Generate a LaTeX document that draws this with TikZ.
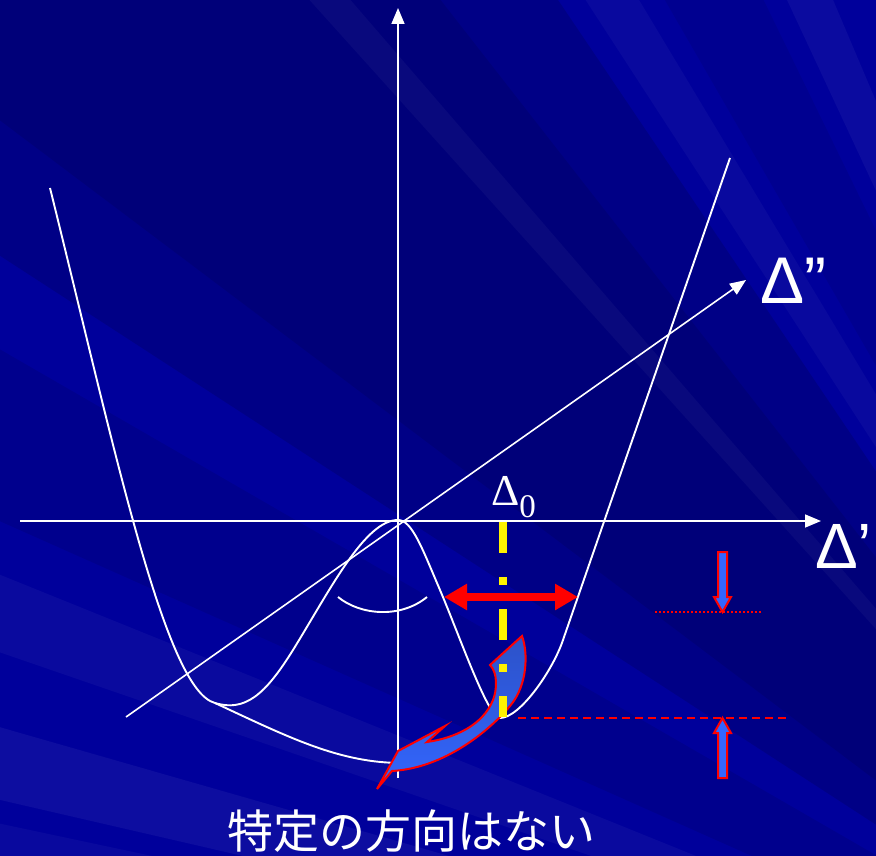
\documentclass[tikz,border=0pt]{standalone}
\usepackage{fontspec}
\setmainfont{Liberation Serif}
\newfontfamily\sansf{Liberation Sans}
\newfontfamily\cjkf{Noto Sans CJK JP}
\usetikzlibrary{arrows.meta}
\definecolor{bg}{RGB}{0,0,155}
\definecolor{arrowblue}{RGB}{51,102,255}
\definecolor{tailblue}{RGB}{44,82,200}
\begin{document}
\begin{tikzpicture}[x=1pt,y=-1pt,
  curve/.style={white, line width=1.9pt, line join=round},
  axis/.style={white, line width=1.6pt, -{Triangle[length=16pt,width=13pt]}},
  blockarrow/.style={fill=arrowblue, draw=red, line width=2pt, line join=miter},
  lbl/.style={white, inner sep=0pt, anchor=base west}]
\useasboundingbox (0,0) rectangle (876,856);
\fill[bg] (0,0) rectangle (876,856);
\begin{scope}
  \clip (0,0) rectangle (876,856);
  \foreach \a/\b/\c/\o in {213/236/black/0.13, 217/232/black/0.09, 240/244/black/0.07,
      204/210/black/0.09,
      228/229.2/white/0.035, 237/239/white/0.035, 245/247/white/0.045,
      199/202/white/0.04, 193/196/white/0.05, 189/192/white/0.035}
    \fill[\c, opacity=\o, shift={(1300,1100)}] (0,0) -- (\a:2600) -- (\b:2600) -- cycle;
\end{scope}

% axes
\coordinate (O) at (398,521);
\coordinate (xL) at (20,521);
\coordinate (xR) at (821,521);
\coordinate (yB) at (398,778);
\coordinate (yT) at (398,8);
\coordinate (dL) at (126,717);
\coordinate (dR) at (746,280);
\draw[axis] (xL) -- (xR);
\draw[axis] (yB) -- (yT);
\draw[axis] (dL) -- (dR);

% potential curves
\coordinate (armL) at (50,188);
\coordinate (minL) at (215,703);
\coordinate (peak) at (398,520);
\coordinate (minR) at (500,718);
\coordinate (armR) at (730,158);
\coordinate (bot) at (402,763);
\draw[curve] (armL) .. controls (115,450) and (165,690) .. (minL)
  .. controls (245,712) and (265,695) .. (293,650)
  .. controls (330,590) and (365,520) .. (peak)
  .. controls (412,520) and (422,548) .. (440,590)
  .. controls (460,637) and (488,718) .. (minR)
  .. controls (520,718) and (553,670) .. (563,640)
  -- (armR);
\draw[curve] (minL) .. controls (290,738) and (340,763) .. (bot);
\coordinate (arcA) at (338,597);
\coordinate (arcB) at (427,597);
\draw[curve] (arcA) .. controls (360,615) and (400,619) .. (arcB);

% blue curved arrow
\path[top color=tailblue, bottom color=arrowblue, draw=red, line width=2pt, line join=miter]
  (377,789) -- (398,751) -- (445,726) -- (427,742)
  .. controls (455,738) and (483,725) .. (493,700)
  .. controls (497,690) and (498,673) .. (490,665)
  -- (522,636)
  .. controls (528,652) and (528,685) .. (510,706)
  .. controls (490,730) and (445,768) .. (392,771)
  -- cycle;

% yellow dash-dot line
\coordinate (yA) at (503,522);
\coordinate (yZ) at (503,717);
\draw[yellow, line width=8pt, dash pattern=on 31pt off 24pt on 8pt off 24pt] (yA) -- (yZ);

% red double arrow
\coordinate (ha) at (444,597);
\coordinate (hb) at (578,597);
\draw[red, line width=8pt, {Triangle[length=23pt,width=25pt]}-{Triangle[length=23pt,width=25pt]}] (ha) -- (hb);

% reference lines
\coordinate (dotA) at (655,612);
\coordinate (dotB) at (761,612);
\draw[red, line width=1.6pt, dash pattern=on 2pt off 2pt] (dotA) -- (dotB);
\coordinate (dashA) at (518,718);
\coordinate (dashB) at (790,718);
\draw[red, line width=1.6pt, dash pattern=on 8pt off 5pt] (dashA) -- (dashB);

% block arrows
\draw[blockarrow] (718,552) -- (727,552) -- (727,597) -- (731,597) -- (722.5,612) -- (714,597) -- (718,597) -- cycle;
\draw[blockarrow] (722.5,718) -- (731,733) -- (727,733) -- (727,778) -- (718,778) -- (718,733) -- (714,733) -- cycle;

% labels
\node[lbl] (ddp) at (760,303) {\sansf\fontsize{66}{70}\selectfont Δ”};
\node[lbl] (dp) at (815,568) {\sansf\fontsize{64}{70}\selectfont Δ’};
\node[lbl] (d0) at (491,505) {\fontsize{44}{48}\selectfont Δ\raisebox{-12pt}{\fontsize{33}{36}\selectfont 0}};
\node[white, inner sep=0pt, anchor=base] (cap) at (411,848) {\cjkf\fontsize{46}{50}\selectfont 特定の方向はない};
\end{tikzpicture}
\end{document}
